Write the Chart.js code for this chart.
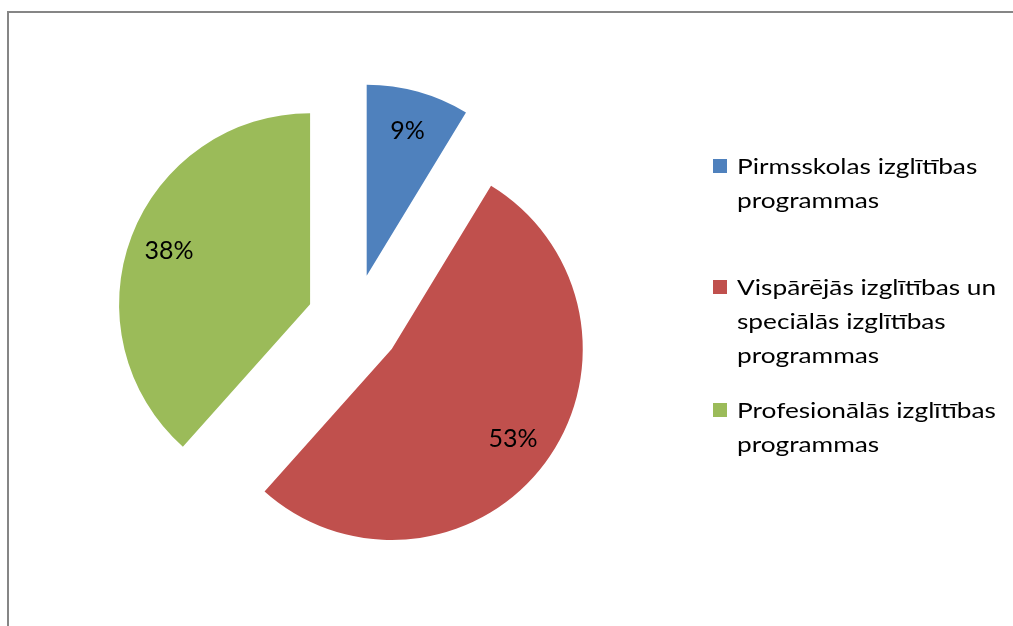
<!DOCTYPE html>
<html>
<head>
<meta charset="utf-8">
<script src="https://cdn.jsdelivr.net/npm/chart.js@4/dist/chart.umd.min.js"></script>
<style>
  html, body { margin: 0; padding: 0; background: #fff; }
  #wrap { position: relative; width: 1013px; height: 626px; overflow: hidden; }
  #frame { position: absolute; left: 7px; top: 11px; width: 1100px; height: 700px; border: 2px solid #868686; box-sizing: border-box; }
  canvas { position: absolute; left: 0; top: 0; }
  .item { position: absolute; left: 713px; font-family: Lato, "Open Sans", sans-serif; font-size: 21px; line-height: 34px; color: #000; }
  .item .sw { position: absolute; left: 0; top: 10px; width: 14px; height: 14px; }
  .item .tx { margin-left: 24px; white-space: nowrap; transform: scaleX(1.25); transform-origin: 0 0; }
</style>
</head>
<body>
<div id="wrap">
  <div id="frame"></div>
  <canvas id="c" width="1013" height="626"></canvas>
  <div id="legend"></div>
</div>
<script>
const categories = [
  ["Pirmsskolas izglītības", "programmas"],
  ["Vispārējās izglītības un", "speciālās izglītības", "programmas"],
  ["Profesionālās izglītības", "programmas"]
];
const values = [8.7, 52.9, 38.4];
const colors = ["#4F81BD", "#C0504D", "#9BBB59"];
const legendTops = [149, 270, 393];
const explode = 47;

// move each slice outward along its mid-angle (uniform explosion, radius unchanged)
const explodePlugin = {
  id: 'explode',
  afterUpdate(chart) {
    const meta = chart.getDatasetMeta(0);
    meta.data.forEach(arc => {
      const mid = (arc.startAngle + arc.endAngle) / 2;
      arc.x += Math.cos(mid) * explode;
      arc.y += Math.sin(mid) * explode;
    });
  }
};

const labelPlugin = {
  id: 'pctLabels',
  afterDatasetsDraw(chart) {
    const ctx = chart.ctx;
    const meta = chart.getDatasetMeta(0);
    const ds = chart.data.datasets[0];
    ctx.save();
    ctx.font = '25px Lato, "Open Sans", sans-serif';
    ctx.fillStyle = '#000';
    ctx.textAlign = 'center';
    ctx.textBaseline = 'middle';
    meta.data.forEach((arc, i) => {
      const mid = (arc.startAngle + arc.endAngle) / 2;
      const d = 0.79 * arc.outerRadius;
      ctx.fillText(Math.round(ds.data[i]) + '%', arc.x + Math.cos(mid) * d, arc.y + Math.sin(mid) * d);
    });
    ctx.restore();
  }
};

new Chart(document.getElementById('c'), {
  type: 'pie',
  data: {
    labels: categories.map(c => c.join(' ')),
    datasets: [{
      data: values,
      backgroundColor: colors,
      borderWidth: 0,
      hoverOffset: 0,
      radius: 191,
      clip: false
    }]
  },
  options: {
    responsive: false,
    animation: false,
    events: [],
    layout: { padding: { left: 140, right: 445, top: 107, bottom: 91 } },
    plugins: { legend: { display: false }, tooltip: { enabled: false } }
  },
  plugins: [explodePlugin, labelPlugin]
});

const lg = document.getElementById('legend');
categories.forEach((lines, i) => {
  const d = document.createElement('div');
  d.className = 'item';
  d.style.top = legendTops[i] + 'px';
  const sw = document.createElement('span');
  sw.className = 'sw';
  sw.style.background = colors[i];
  d.appendChild(sw);
  const tx = document.createElement('div');
  tx.className = 'tx';
  tx.innerHTML = lines.join('<br>');
  d.appendChild(tx);
  lg.appendChild(d);
});
</script>
</body>
</html>
